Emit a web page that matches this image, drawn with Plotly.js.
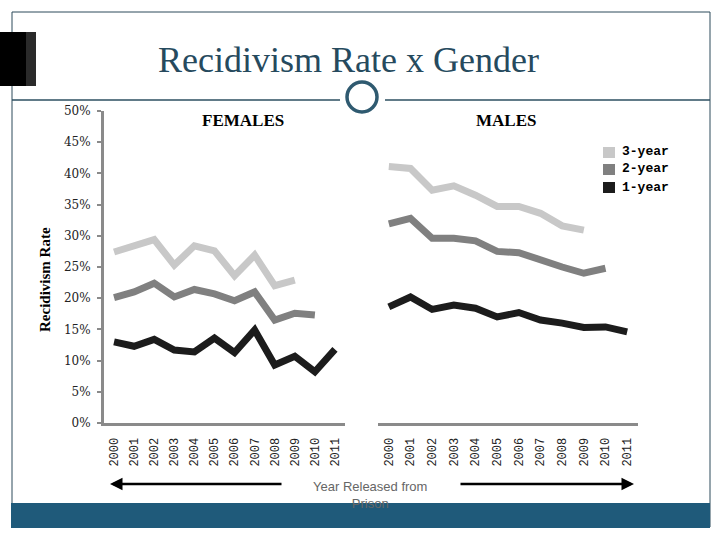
<!DOCTYPE html>
<html><head><meta charset="utf-8">
<script src="https://cdn.plot.ly/plotly-3.0.1.min.js"></script>
<style>html,body{margin:0;padding:0;background:#fff}#chart{width:720px;height:540px}</style>
</head><body><div id="chart"></div>
<script>
const years = [2000,2001,2002,2003,2004,2005,2006,2007,2008,2009,2010,2011];
const yearLabels = ["2000","2001","2002","2003","2004","2005","2006","2007","2008","2009","2010","2011"];
const fem3 = [27.4, 28.4, 29.4, 25.3, 28.4, 27.6, 23.6, 26.9, 22.0, 22.9];
const fem2 = [20.1, 21.0, 22.4, 20.2, 21.4, 20.7, 19.6, 21.0, 16.5, 17.6, 17.3];
const fem1 = [13.0, 12.3, 13.4, 11.7, 11.4, 13.6, 11.3, 14.9, 9.3, 10.7, 8.2, 11.8];
const male3 = [41.1, 40.8, 37.3, 38.0, 36.5, 34.7, 34.7, 33.6, 31.6, 30.9];
const male2 = [31.9, 32.8, 29.6, 29.6, 29.2, 27.5, 27.3, 26.1, 25.0, 24.0, 24.8];
const male1 = [18.6, 20.2, 18.2, 18.9, 18.4, 17.0, 17.7, 16.5, 16.0, 15.3, 15.4, 14.6];
const seriesNames = ["3-year","2-year","1-year"];
const seriesColors = ["#c8c8c8","#808080","#1c1c1c"];
const yTicks = [0,5,10,15,20,25,30,35,40,45,50];
const yTickText = ["0%","5%","10%","15%","20%","25%","30%","35%","40%","45%","50%"];

const W=720,H=540;
const px = x => x/W;
const py = y => 1 - y/H;

function tr(xs, ys, i, xa){
  return {x: xs.slice(0, ys.length), y: ys, type:'scatter', mode:'lines', xaxis:xa, yaxis:'y',
    line:{color:seriesColors[i], width:7}, showlegend:false, name:seriesNames[i], hoverinfo:'skip'};
}
const data = [
  tr(years, fem3, 0, 'x'), tr(years, fem2, 1, 'x'), tr(years, fem1, 2, 'x'),
  tr(years, male3, 0, 'x2'), tr(years, male2, 1, 'x2'), tr(years, male1, 2, 'x2')
];

const xcommon = {range:[1999.5,2011.5], tickvals:years, ticktext:yearLabels, tickangle:-90,
  showline:true, linecolor:'#8a8a8a', linewidth:3, showgrid:false, zeroline:false, ticks:'',
  ticklabelstandoff:7, tickfont:{family:'Liberation Mono', size:12, color:'#222'}, fixedrange:true};

const teal = '#264a5e';
const shapes = [
  {type:'rect', xref:'paper', yref:'paper', x0:px(12), x1:px(710), y0:py(527), y1:py(12), line:{color:'#2d4a5a', width:1}, fillcolor:'rgba(0,0,0,0)', layer:'below'},
  {type:'rect', xref:'paper', yref:'paper', x0:px(11), x1:px(710), y0:py(528), y1:py(503), line:{width:0}, fillcolor:'#1f5a7a', layer:'below'},
  {type:'rect', xref:'paper', yref:'paper', x0:px(0), x1:px(26), y0:py(86), y1:py(32), line:{width:0}, fillcolor:'#000'},
  {type:'rect', xref:'paper', yref:'paper', x0:px(26), x1:px(36), y0:py(86), y1:py(32), line:{width:0}, fillcolor:'#2a2a2a'},
  {type:'line', xref:'paper', yref:'paper', x0:px(12), x1:px(340), y0:py(100), y1:py(100), line:{color:'#2d4f60', width:1.5}},
  {type:'line', xref:'paper', yref:'paper', x0:px(385), x1:px(710), y0:py(100), y1:py(100), line:{color:'#2d4f60', width:1.5}},
  {type:'circle', xref:'paper', yref:'paper', x0:px(347), x1:px(377), y0:py(112), y1:py(82), line:{color:'#2f5a70', width:3.5}},
  {type:'rect', xref:'paper', yref:'paper', x0:px(603), x1:px(615), y0:py(158), y1:py(147), line:{width:0}, fillcolor:seriesColors[0]},
  {type:'rect', xref:'paper', yref:'paper', x0:px(603), x1:px(615), y0:py(175), y1:py(164), line:{width:0}, fillcolor:seriesColors[1]},
  {type:'rect', xref:'paper', yref:'paper', x0:px(603), x1:px(615), y0:py(193), y1:py(182), line:{width:0}, fillcolor:seriesColors[2]}
];

const annotations = [
  {text:'Recidivism Rate x Gender', xref:'paper', yref:'paper', x:px(348), y:py(60), showarrow:false,
   font:{family:'Liberation Serif', size:36, color:teal}, xanchor:'center', yanchor:'middle'},
  {text:'<b>FEMALES</b>', xref:'paper', yref:'paper', x:px(243), y:py(120), xanchor:'center', yanchor:'middle', showarrow:false,
   font:{family:'Liberation Serif', size:17, color:'#000'}},
  {text:'<b>MALES</b>', xref:'paper', yref:'paper', x:px(506), y:py(120), xanchor:'center', yanchor:'middle', showarrow:false,
   font:{family:'Liberation Serif', size:17, color:'#000'}},
  {text:'<b>Recidivism Rate</b>', xref:'paper', yref:'paper', x:px(45), y:py(280), xanchor:'center', yanchor:'middle', showarrow:false, textangle:-90,
   font:{family:'Liberation Serif', size:15, color:'#000'}},
  {text:'Year Released from<br>Prison', xref:'paper', yref:'paper', x:px(370), y:py(477), xanchor:'center', yanchor:'top', showarrow:false,
   font:{family:'Liberation Sans', size:13, color:'#666'}},
  {text:'', xref:'paper', yref:'paper', x:px(110), y:py(484), ax:173, ay:0, showarrow:true, arrowhead:2, arrowsize:1, arrowwidth:2.5, arrowcolor:'#000'},
  {text:'', xref:'paper', yref:'paper', x:px(634), y:py(484), ax:-175, ay:0, showarrow:true, arrowhead:2, arrowsize:1, arrowwidth:2.5, arrowcolor:'#000'}
];
const legendY = [152, 169, 187];
seriesNames.forEach((n,i)=>{
  annotations.push({text:'<b>'+n+'</b>', xref:'paper', yref:'paper', x:px(620), y:py(legendY[i]), xanchor:'left', yanchor:'middle', showarrow:false,
    font:{family:'Liberation Mono', size:13, color:'#000'}});
});

const layout = {
  width:W, height:H, margin:{l:0,r:0,t:0,b:0}, paper_bgcolor:'#fff', plot_bgcolor:'rgba(0,0,0,0)',
  showlegend:false,
  xaxis: Object.assign({}, xcommon, {domain:[px(104), px(345)], anchor:'y'}),
  xaxis2: Object.assign({}, xcommon, {domain:[px(378), px(638)], anchor:'y'}),
  yaxis: {domain:[py(423), py(111)], range:[0,50], tickvals:yTicks, ticktext:yTickText, showline:true, linecolor:'#8a8a8a', linewidth:3,
    ticks:'outside', ticklen:4, tickcolor:'#8a8a8a', tickwidth:2, showgrid:false, zeroline:false, ticklabelstandoff:4,
    tickfont:{family:'DejaVu Serif', size:12, color:'#222'}, fixedrange:true},
  shapes: shapes, annotations: annotations
};
Plotly.newPlot('chart', data, layout, {staticPlot:true});
</script></body></html>
